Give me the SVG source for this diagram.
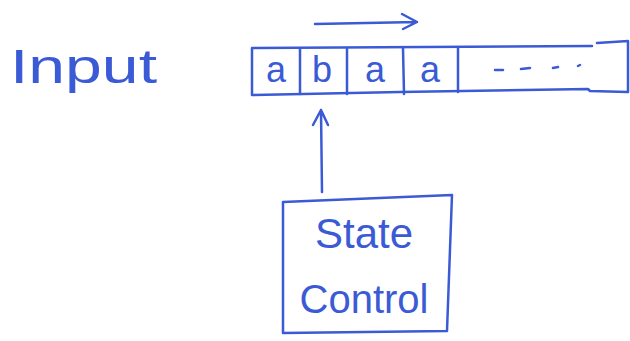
<svg xmlns="http://www.w3.org/2000/svg" width="630" height="341" viewBox="0 0 630 341">
<defs>
<style>
.ln{fill:none;stroke:#3b5ad6;stroke-width:2.5;stroke-linecap:round;stroke-linejoin:round}
.t{fill:#3b5ad6;font-family:"Liberation Sans",Arial,sans-serif}
</style>
</defs>
<rect width="630" height="341" fill="#ffffff"/>
<g id="input-label">
<text class="t" x="10" y="83" font-size="48" textLength="147" lengthAdjust="spacingAndGlyphs">Input</text>
</g>
<g id="tape">
<path class="ln" d="M252,95 L252,48 L592,46 M597,43 L628,41 L628,92 L590,91 L588,89 L400,92 L252,95"/>
<path class="ln" d="M300,49 L300,94 M347,49 L347,94 M403,48 L404,94 M458,48 L458,92"/>
<text class="t" x="276" y="82" font-size="36" text-anchor="middle">a</text>
<text class="t" x="322" y="82" font-size="36" text-anchor="middle">b</text>
<text class="t" x="375" y="82" font-size="36" text-anchor="middle">a</text>
<text class="t" x="430" y="82" font-size="36" text-anchor="middle">a</text>
<path class="ln" d="M495,70 L503,70 M521,69 L530,68 M553,68 L558,67 M578,66 L580,65"/>
</g>
<g id="state-control">
<path class="ln" d="M283,202 L452,195 L447,331 L283,333 Z"/>
<text class="t" x="364" y="248" font-size="42" text-anchor="middle">State</text>
<text class="t" x="364" y="313" font-size="40" text-anchor="middle">Control</text>
</g>
<g id="connectors">
<path class="ln" d="M315,24 L417,22 M402,14 L417,22 L403,29"/>
<path class="ln" d="M322,192 L321,110 M313,125 L321,110 L328,125"/>
</g>
</svg>
